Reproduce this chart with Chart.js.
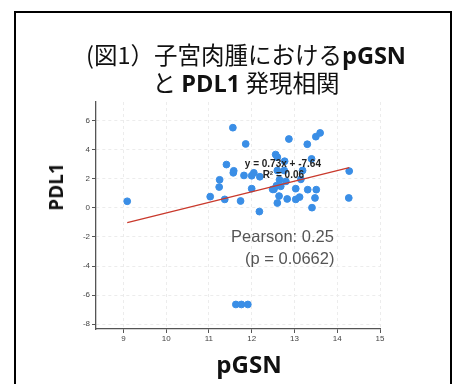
<!DOCTYPE html>
<html lang="ja">
<head>
    <meta charset="UTF-8">
    <title>pGSN vs PDL1</title>
    <script src="https://cdn.jsdelivr.net/npm/chart.js"></script>
    <style>
        body {
            margin: 0;
            background: #fff;
        }
        #wrap {
            position: relative;
            width: 453px;
            height: 384px;
            overflow: hidden;
        }
        #frame {
            position: absolute;
            left: 14px;
            top: 11px;
            width: 434px;
            height: 400px;
            border: 2px solid #000;
        }
        #title {
            position: absolute;
            left: 30px;
            width: 432px;
            top: 41px;
            text-align: center;
            font-family: "Noto Sans CJK JP", sans-serif;
            font-size: 23.5px;
            line-height: 27px;
            color: #111;
        }
        #title b, .axis-title {
            font-family: "Open Sans", sans-serif;
            font-weight: bold;
        }
        .axis-title {
            position: absolute;
            color: #111;
            white-space: nowrap;
        }
        #xtitle {
            left: 249px;
            top: 363px;
            font-size: 24px;
            transform: translate(-50%, -50%);
        }
        #ytitle {
            left: 56px;
            top: 187px;
            font-size: 19px;
            transform: translate(-50%, -50%) rotate(-90deg);
        }
        #chart {
            position: absolute;
            left: 0;
            top: 0;
        }
    </style>
</head>
<body>
<div id="wrap">
    <div id="frame"></div>
    <canvas id="chart" width="453" height="384"></canvas>
    <div id="title">(図1）子宮肉腫における<b>pGSN</b><br>と <b>PDL1</b> 発現相関</div>
    <div class="axis-title" id="ytitle">PDL1</div>
    <div class="axis-title" id="xtitle">pGSN</div>
</div>
<script>
    // values
    const pgsn = [9.09, 11.56, 11.86, 12.87, 13.30, 13.50, 13.60, 12.56, 12.60, 12.77,
        13.40, 11.41, 11.58, 11.57, 11.25, 11.24, 11.03, 11.37, 11.74, 11.82,
        12.00, 12.05, 12.00, 12.18, 12.19, 12.60, 12.65, 12.80, 12.52, 12.49,
        12.58, 12.68, 12.64, 12.60, 12.83, 13.03, 13.03, 13.12, 13.15, 13.31,
        13.51, 13.48, 13.41, 14.28, 14.27, 11.63, 11.76, 11.91, 13.19, 12.76];
    const pdl1 = [0.46, 5.53, 4.41, 4.75, 4.39, 4.91, 5.17, 3.68, 3.50, 3.22,
        3.38, 2.99, 2.56, 2.42, 1.94, 1.44, 0.78, 0.59, 0.48, 2.24,
        2.22, 2.42, 1.33, -0.25, 2.15, 2.58, 1.94, 1.83, 1.28, 1.28,
        1.53, 1.49, 0.82, 0.34, 0.62, 1.33, 0.59, 0.75, 1.97, 1.26,
        1.26, 0.69, 0.02, 2.54, 0.69, -6.65, -6.65, -6.65, 2.58, 2.58];
    const slope = 0.73;
    const intercept = -7.64;
    const rSquared = 0.06;
    const pearson = 0.25;
    const pValue = 0.0662;

    const points = pgsn.map((x, i) => ({x: x, y: pdl1[i]}));
    const xLo = Math.min(...pgsn);
    const xHi = Math.max(...pgsn);
    const fitLine = [xLo, xHi].map(x => ({x: x, y: slope * x + intercept}));

    // text drawn in data coordinates
    const notes = [
        {x: 12.73, y: 2.99, text: 'y = ' + slope + 'x + ' + intercept, font: 'bold 10px "Liberation Sans", Arial', color: '#222'},
        {x: 12.74, y: 2.26, text: 'R² = ' + rSquared.toFixed(2), font: 'bold 10px "Liberation Sans", Arial', color: '#222'},
        {x: 12.72, y: -2.03, text: 'Pearson: ' + pearson, font: '16.5px "Liberation Sans", Arial', color: '#555'},
        {x: 12.89, y: -3.53, text: '(p = ' + pValue + ')', font: '16.5px "Liberation Sans", Arial', color: '#555'}
    ];

    const notePlugin = {
        id: 'notes',
        afterDatasetsDraw(chart) {
            const ctx = chart.ctx;
            const xs = chart.scales.x, ys = chart.scales.y;
            ctx.save();
            ctx.textAlign = 'center';
            ctx.textBaseline = 'middle';
            notes.forEach(n => {
                ctx.font = n.font;
                ctx.fillStyle = n.color;
                ctx.fillText(n.text, xs.getPixelForValue(n.x), ys.getPixelForValue(n.y));
            });
            ctx.restore();
        }
    };

    const tickFont = {family: '"Liberation Sans", Arial', size: 8};

    new Chart(document.getElementById('chart'), {
        type: 'scatter',
        data: {
            datasets: [{
                type: 'line',
                data: fitLine,
                borderColor: '#c9392c',
                borderWidth: 1.3,
                pointRadius: 0,
                fill: false,
                order: 0
            }, {
                data: points,
                backgroundColor: '#3a8ee6',
                borderColor: '#3a8ee6',
                pointRadius: 3.4,
                order: 1
            }]
        },
        options: {
            responsive: false,
            animation: false,
            layout: {padding: {top: 102, right: 73, left: 0, bottom: 0}},
            plugins: {
                legend: {display: false},
                tooltip: {enabled: false}
            },
            scales: {
                x: {
                    type: 'linear',
                    min: 8.36,
                    max: 15,
                    afterFit: s => { s.height = 55; },
                    border: {display: true, color: '#555', width: 1.3, dash: [3, 3]},
                    grid: {color: '#ececec', tickColor: '#555', tickLength: 4, tickBorderDash: []},
                    ticks: {stepSize: 1, includeBounds: false, font: tickFont, color: '#444', padding: 1}
                },
                y: {
                    type: 'linear',
                    min: -8.34,
                    max: 7.3,
                    afterFit: s => { s.width = 96; },
                    border: {display: true, color: '#555', width: 1.3, dash: [3, 3]},
                    grid: {color: '#ececec', tickColor: '#555', tickLength: 4, tickBorderDash: []},
                    ticks: {stepSize: 2, includeBounds: false, font: tickFont, color: '#444', padding: 2}
                }
            }
        },
        plugins: [notePlugin]
    });
</script>
</body>
</html>
